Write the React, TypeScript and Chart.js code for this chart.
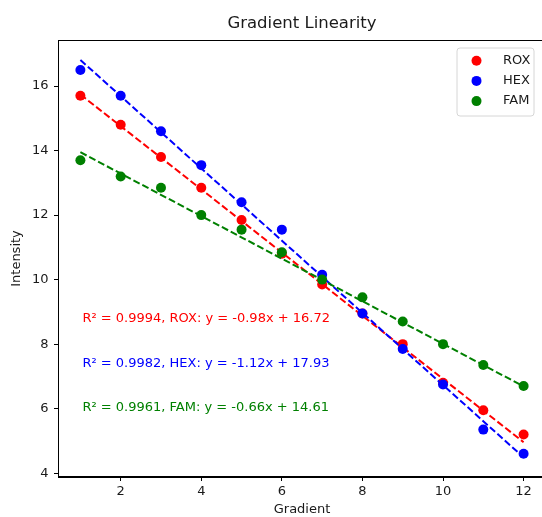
import React, { useEffect, useRef } from "react";
import { Chart, registerables } from "chart.js";

Chart.register(...registerables);

const gradients = [1, 2, 3, 4, 5, 6, 7, 8, 9, 10, 11, 12];
const seriesNames = ["ROX", "HEX", "FAM"];
const seriesColors = ["#ff0000", "#0000ff", "#008000"];
const roxValues = [15.7, 14.8, 13.8, 12.85, 11.85, 10.8, 9.85, 8.95, 8.0, 6.8, 5.95, 5.2];
const hexValues = [16.5, 15.7, 14.6, 13.55, 12.4, 11.55, 10.15, 8.95, 7.85, 6.75, 5.35, 4.6];
const famValues = [13.7, 13.2, 12.85, 12.0, 11.55, 10.85, 10.0, 9.45, 8.7, 8.0, 7.35, 6.7];
const fitSlopes = [-0.98, -1.12, -0.66];
const fitIntercepts = [16.72, 17.93, 14.61];
const rSquared = ["0.9994", "0.9982", "0.9961"];
const xTickValues = [2, 4, 6, 8, 10, 12];
const yTickValues = [4, 6, 8, 10, 12, 14, 16];
const chartTitle = "Gradient Linearity";

const FONT = "'DejaVu Sans', sans-serif";
const TEXT = "#1a1a1a";

const allValues = [roxValues, hexValues, famValues];

const framePlugin = {
  id: "frameAndNotes",
  afterDatasetsDraw(chart: any) {
    const { ctx, chartArea } = chart;
    const xs = chart.scales.x;
    const ys = chart.scales.y;
    ctx.save();
    ctx.strokeStyle = "#000";
    ctx.lineWidth = 1;
    ctx.strokeRect(chartArea.left + 0.5, chartArea.top + 0.5, chartArea.right - chartArea.left - 1, chartArea.bottom - chartArea.top - 1);

    // title centred over the plot area
    ctx.font = `16.5px ${FONT}`;
    ctx.fillStyle = TEXT;
    ctx.textAlign = "center";
    ctx.textBaseline = "middle";
    ctx.fillText(chartTitle, (chartArea.left + chartArea.right) / 2, chartArea.top - 16);

    const noteY = [8.79, 7.38, 6.02];
    ctx.font = `13px ${FONT}`;
    ctx.textAlign = "left";
    ctx.textBaseline = "middle";
    seriesNames.forEach((name, i) => {
      const txt = `R² = ${rSquared[i]}, ${name}: y = ${fitSlopes[i].toFixed(2)}x + ${fitIntercepts[i].toFixed(2)}`;
      ctx.fillStyle = seriesColors[i];
      ctx.fillText(txt, xs.getPixelForValue(1.05), ys.getPixelForValue(noteY[i]));
    });

    const boxRight = chartArea.right - 12;
    const boxLeft = boxRight - 77;
    const boxTop = chartArea.top + 8;
    const boxH = 68;
    const r = 3;
    ctx.beginPath();
    ctx.moveTo(boxLeft + r, boxTop);
    ctx.lineTo(boxRight - r, boxTop);
    ctx.arcTo(boxRight, boxTop, boxRight, boxTop + r, r);
    ctx.lineTo(boxRight, boxTop + boxH - r);
    ctx.arcTo(boxRight, boxTop + boxH, boxRight - r, boxTop + boxH, r);
    ctx.lineTo(boxLeft + r, boxTop + boxH);
    ctx.arcTo(boxLeft, boxTop + boxH, boxLeft, boxTop + boxH - r, r);
    ctx.lineTo(boxLeft, boxTop + r);
    ctx.arcTo(boxLeft, boxTop, boxLeft + r, boxTop, r);
    ctx.closePath();
    ctx.fillStyle = "rgba(255,255,255,0.8)";
    ctx.fill();
    ctx.strokeStyle = "#d6d6d6";
    ctx.lineWidth = 1;
    ctx.stroke();
    ctx.font = `13px ${FONT}`;
    ctx.textBaseline = "middle";
    ctx.textAlign = "left";
    seriesNames.forEach((name, i) => {
      const cy = boxTop + 12.7 + i * 20.2;
      ctx.beginPath();
      ctx.arc(boxLeft + 19.5, cy, 5, 0, Math.PI * 2);
      ctx.fillStyle = seriesColors[i];
      ctx.fill();
      ctx.fillStyle = TEXT;
      ctx.fillText(name, boxLeft + 46, cy);
    });
    ctx.restore();
  },
};

export default function App() {
  const ref = useRef<HTMLCanvasElement | null>(null);
  useEffect(() => {
    if (!ref.current) return;
    const datasets: any[] = [];
    seriesNames.forEach((name, i) => {
      datasets.push({
        type: "scatter",
        label: name,
        data: gradients.map((g, k) => ({ x: g, y: allValues[i][k] })),
        backgroundColor: seriesColors[i],
        borderWidth: 0,
        pointRadius: 5,
        pointHoverRadius: 5,
        order: 10 - i * 2,
      });
      const x0 = gradients[0];
      const x1 = gradients[gradients.length - 1];
      datasets.push({
        type: "scatter",
        label: name + " fit",
        data: [
          { x: x0, y: fitSlopes[i] * x0 + fitIntercepts[i] },
          { x: x1, y: fitSlopes[i] * x1 + fitIntercepts[i] },
        ],
        showLine: true,
        borderColor: seriesColors[i],
        borderDash: [7, 3],
        borderWidth: 2,
        pointRadius: 0,
        pointHoverRadius: 0,
        fill: false,
        order: 9 - i * 2,
      });
    });
    const chart = new Chart(ref.current, {
      type: "scatter",
      data: { datasets },
      plugins: [framePlugin],
      options: {
        responsive: false,
        animation: false,
        events: [],
        layout: { padding: { left: 0, right: 14, top: 40, bottom: 0 } },
        plugins: {
          legend: { display: false },
          tooltip: { enabled: false },
          title: { display: false },
        },
        scales: {
          x: {
            type: "linear",
            min: 0.444,
            max: 12.556,
            afterFit: (s: any) => {
              s.height = 40;
            },
            afterBuildTicks: (s: any) => {
              s.ticks = xTickValues.map((v) => ({ value: v }));
            },
            ticks: {
              color: TEXT,
              font: { family: FONT, size: 13 },
              padding: 3,
              maxRotation: 0,
              callback: (v: any) => String(v),
            },
            grid: {
              display: true,
              drawOnChartArea: false,
              drawTicks: true,
              tickLength: 4,
              tickColor: "#000",
              color: "#000",
            },
            border: { display: true, color: "#000", width: 1 },
            title: {
              display: true,
              text: "Gradient",
              color: TEXT,
              font: { family: FONT, size: 13 },
              padding: { top: 0, bottom: 0 },
            },
          },
          y: {
            type: "linear",
            min: 3.88,
            max: 17.43,
            afterFit: (s: any) => {
              s.width = 58;
            },
            afterBuildTicks: (s: any) => {
              s.ticks = yTickValues.map((v) => ({ value: v }));
            },
            ticks: {
              color: TEXT,
              font: { family: FONT, size: 13 },
              padding: 5.5,
              callback: (v: any) => String(v),
            },
            grid: {
              display: true,
              drawOnChartArea: false,
              drawTicks: true,
              tickLength: 4,
              tickColor: "#000",
              color: "#000",
            },
            border: { display: true, color: "#000", width: 1 },
            title: {
              display: true,
              text: "Intensity",
              color: TEXT,
              font: { family: FONT, size: 13 },
              padding: { top: 9.2, bottom: 0 },
            },
          },
        },
      } as any,
    });
    return () => chart.destroy();
  }, []);
  return (
    <div style={{ position: "absolute", left: 0, top: 0, width: 542, height: 517, overflow: "hidden", background: "#fff" }}>
      <canvas ref={ref} width={560} height={517} style={{ width: 560, height: 517, display: "block" }} />
    </div>
  );
}
